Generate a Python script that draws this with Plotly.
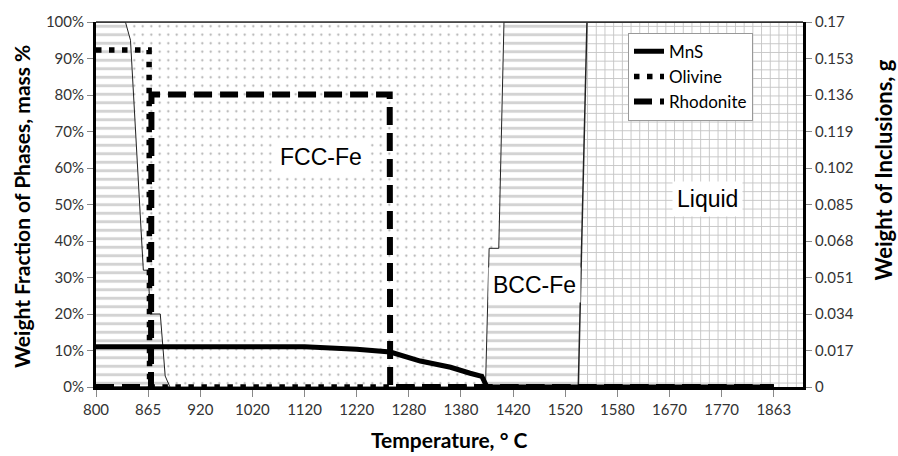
import numpy as np
import plotly.graph_objects as go

# ---------------- data ----------------
tick_labels = ["800", "865", "920", "1020", "1120", "1220", "1280", "1380",
               "1420", "1520", "1580", "1670", "1770", "1863"]
tick_temps = [800, 865, 920, 1020, 1120, 1220, 1280, 1380, 1420, 1520, 1580, 1670, 1770, 1863]

# phase fractions, mass %
phase_temp = [800, 836.7, 843, 859, 865.2, 867, 877.8, 883, 888, 1398.8, 1401.6, 1409, 1413, 1535, 1545, 1915]
bcc_frac = [100, 100, 95, 32, 32, 20, 20, 3, 0, 0, 38, 38, 100, 100, 0, 0]
liquid_frac = [0, 0, 0, 0, 0, 0, 0, 0, 0, 0, 0, 0, 0, 0, 100, 100]
fcc_frac = [100 - b - l for b, l in zip(bcc_frac, liquid_frac)]

# inclusions, g
mns_temp = [800, 1120, 1220, 1258.7, 1302, 1360, 1387, 1396, 1400, 1863]
mns_g = [0.0188, 0.0187, 0.0176, 0.0163, 0.0121, 0.0092, 0.0064, 0.0050, 0.0, 0.0]
olivine_temp = [800, 866, 866.5, 1863]
olivine_g = [0.157, 0.157, 0.0, 0.0]
rhodonite_temp = [800, 868, 868.5, 1258, 1258.5, 1863]
rhodonite_g = [0.0, 0.0, 0.1362, 0.1362, 0.0, 0.0]

left_ticks = [0, 10, 20, 30, 40, 50, 60, 70, 80, 90, 100]
left_ticktext = ["0%", "10%", "20%", "30%", "40%", "50%", "60%", "70%", "80%", "90%", "100%"]
right_ticks = [0, 0.017, 0.034, 0.051, 0.068, 0.085, 0.102, 0.119, 0.136, 0.153, 0.17]
right_ticktext = ["0", "0.017", "0.034", "0.051", "0.068", "0.085", "0.102", "0.119", "0.136", "0.153", "0.17"]

# category-style axis: temperature -> label slot
ext_temps = tick_temps + [1956]
ext_idx = list(range(len(ext_temps)))


def to_x(temps):
    return np.interp(temps, ext_temps, ext_idx)


# ---------------- layout helpers ----------------
W, H = 898, 456
L, R, T, B = 96, 803, 16, 387


def pxx(p):
    return (p - L) / (R - L)


def pxy(p):
    return (B - p) / (B - T)


FONT = "Lato"
fig = go.Figure()

# stacked phase areas
fig.add_trace(go.Scatter(
    x=to_x(phase_temp), y=liquid_frac, stackgroup="ph", mode="lines",
    line=dict(color="#222", width=1.5), fillcolor="white",
    fillpattern=dict(shape="+", fgcolor="#8a8a8a", bgcolor="white", size=8.7, solidity=0.2),
    showlegend=False, hoverinfo="skip"))
fig.add_trace(go.Scatter(
    x=to_x(phase_temp), y=bcc_frac, stackgroup="ph", mode="lines",
    line=dict(color="#222", width=1), fillcolor="white",
    fillpattern=dict(shape="-", fgcolor="#a8a8a8", bgcolor="white", size=8.5, solidity=0.35),
    showlegend=False, hoverinfo="skip"))
fig.add_trace(go.Scatter(
    x=to_x(phase_temp), y=fcc_frac, stackgroup="ph", mode="lines",
    line=dict(color="#222", width=1), fillcolor="white",
    fillpattern=dict(shape=".", fgcolor="#555", bgcolor="white", size=8.5, solidity=0.05),
    showlegend=False, hoverinfo="skip"))

# inclusion lines
fig.add_trace(go.Scatter(
    x=to_x(mns_temp), y=mns_g, yaxis="y2", mode="lines", name="MnS",
    line=dict(color="black", width=5)))
fig.add_trace(go.Scatter(
    x=to_x(olivine_temp), y=olivine_g, yaxis="y2", mode="lines", name="Olivine",
    line=dict(color="black", width=5.5, dash="5.5px,7.5px")))
fig.add_trace(go.Scatter(
    x=to_x(rhodonite_temp), y=rhodonite_g, yaxis="y2", mode="lines", name="Rhodonite",
    line=dict(color="black", width=6, dash="18px,8px")))

tickfont = dict(family=FONT, size=15, color="#333")
fig.update_layout(
    width=W, height=H, margin=dict(l=L, r=W - R, t=T, b=H - B),
    paper_bgcolor="white", plot_bgcolor="white",
    xaxis=dict(range=[0, 13.56], tickmode="array", tickvals=list(range(len(tick_labels))),
               ticktext=tick_labels, showgrid=False, zeroline=False,
               showline=True, linecolor="black", linewidth=3,
               ticks="outside", ticklen=7, tickcolor="#888", tickwidth=1,
               tickfont=tickfont),
    yaxis=dict(range=[0, 100], tickmode="array", tickvals=left_ticks, ticktext=left_ticktext,
               showgrid=False, zeroline=False, showline=True, linecolor="black", linewidth=3,
               ticks="outside", ticklen=6, tickcolor="#888", tickwidth=1, tickfont=tickfont),
    yaxis2=dict(range=[0, 0.17], overlaying="y", side="right", tickmode="array",
                tickvals=right_ticks, ticktext=right_ticktext, showgrid=False, zeroline=False,
                showline=True, linecolor="black", linewidth=3,
                ticks="outside", ticklen=6, tickcolor="#888", tickwidth=1, tickfont=tickfont),
    legend=dict(x=pxx(628), y=pxy(27), xanchor="left", yanchor="top",
                bgcolor="white", bordercolor="#999", borderwidth=1,
                font=dict(family=FONT, size=17, color="black"),
                itemwidth=30, tracegroupgap=0, traceorder="normal",
                entrywidth=100, entrywidthmode="pixels"),
    showlegend=True,
)

# top border line
fig.add_shape(type="line", xref="paper", yref="paper", x0=0, x1=1, y0=1, y1=1,
              line=dict(color="#333", width=1.5))

lab = dict(family="Liberation Sans", size=23, color="black")
for txt, cx, cy in [("FCC-Fe", 321, 153), ("BCC-Fe", 534, 283), ("Liquid", 707, 196)]:
    fig.add_annotation(text=txt, xref="paper", yref="paper", x=pxx(cx), y=pxy(cy),
                       xanchor="center", yanchor="middle", showarrow=False,
                       font=lab, bgcolor="white", borderpad=4)

title_font = dict(family=FONT, size=21, color="black", weight="bold")
fig.add_annotation(text="Weight Fraction of Phases, mass %", xref="paper", yref="paper",
                   x=pxx(22), y=pxy(204), textangle=-90, showarrow=False,
                   xanchor="center", yanchor="middle", font=title_font)
fig.add_annotation(text="Weight of Inclusions, g", xref="paper", yref="paper",
                   x=pxx(884), y=pxy(167), textangle=-90, showarrow=False,
                   xanchor="center", yanchor="middle",
                   font=dict(family=FONT, size=22, color="black", weight="bold"))
fig.add_annotation(text="Temperature, ° C", xref="paper", yref="paper",
                   x=pxx(449), y=pxy(440), showarrow=False,
                   xanchor="center", yanchor="middle", font=title_font)

fig.write_html("out.html")
